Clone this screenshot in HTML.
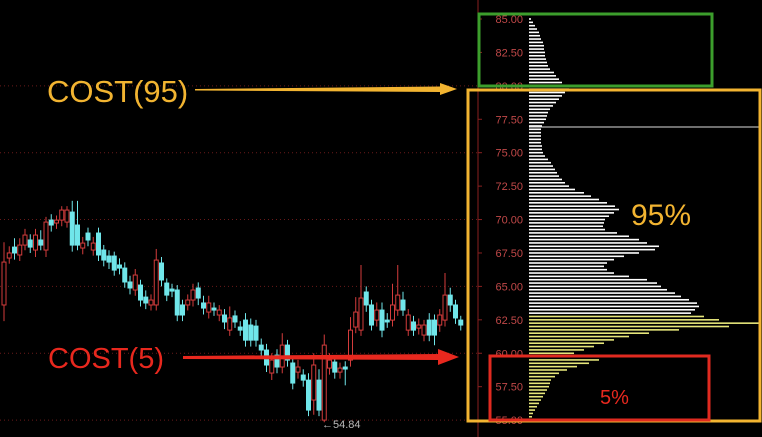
<!DOCTYPE html>
<html><head><meta charset="utf-8"><style>
html,body{margin:0;padding:0;background:#000;}
svg{display:block;}
</style></head><body>
<svg id="chart" width="762" height="437" viewBox="0 0 762 437" xmlns="http://www.w3.org/2000/svg" font-family="Liberation Sans, sans-serif">
<rect width="762" height="437" fill="#000"/>
<g id="grid"></g>
<g id="candles"></g>
<line x1="478" y1="0" x2="478" y2="437" stroke="#8a2020" stroke-width="1"/>
<g id="yaxis"></g>
<g id="profile"></g>
<line x1="529" y1="127" x2="760" y2="127" stroke="#ddd" stroke-width="1"/>
<text x="322" y="428" fill="#bbb" font-size="11">←54.84</text>
<rect x="479" y="14" width="233" height="72" fill="none" stroke="#3c9e2c" stroke-width="3"/>
<rect x="468" y="90" width="292" height="331" fill="none" stroke="#f2b431" stroke-width="3"/>
<rect x="490" y="356" width="219" height="64" fill="none" stroke="#e02a20" stroke-width="3"/>
<text x="47" y="102" fill="#f2b431" font-size="31">COST(95)</text>
<polygon points="195,89 440,86.5 440,83 457,89 440,95 440,92 195,90.5" fill="#f2b431"/>
<text x="48" y="368" fill="#e8281e" font-size="29">COST(5)</text>
<polygon points="183,356 438,354 438,349 459,357 438,365 438,360 183,359" fill="#e8281e"/>
<text x="631" y="225" fill="#f2b431" font-size="30">95%</text>
<text x="600" y="404" fill="#e8281e" font-size="20">5%</text>
</svg>
<script>
const O=[63.61,67.12,67.94,67.35,68.09,68.47,67.72,68.47,67.72,69.96,69.74,69.96,69.81,70.56,69.59,67.87,68.99,67.72,68.99,67.72,67.27,67.27,66.60,66.37,65.33,64.73,65.10,64.20,63.61,63.61,66.75,65.25,64.80,64.73,63.61,63.61,63.98,64.88,63.76,63.08,63.38,62.86,62.86,61.73,62.79,61.96,62.48,62.11,62.03,60.61,60.24,58.52,59.86,58.97,60.61,59.27,58.59,58.37,57.99,56.50,57.99,55.00,58.89,59.34,58.59,58.97,59.49,61.96,61.73,64.58,63.61,62.48,63.23,62.48,62.48,63.23,63.98,61.73,62.34,61.88,61.36,62.48,62.48,62.11,62.48,64.35,63.61,62.48];
const C=[66.82,67.50,67.50,68.09,68.84,67.94,68.84,68.09,69.81,69.59,69.96,70.71,70.71,68.09,68.09,68.24,68.47,68.24,67.35,66.97,66.82,66.22,66.37,65.33,64.88,65.85,63.98,63.76,63.98,66.97,65.48,64.35,64.65,62.86,62.86,63.98,64.73,64.13,63.38,63.76,63.23,63.23,62.34,62.64,62.34,61.73,60.98,60.98,60.98,60.24,59.12,59.49,58.97,60.61,59.49,57.77,58.97,57.99,55.75,59.12,55.75,60.61,59.49,58.59,58.89,58.82,61.73,63.08,64.13,63.61,62.11,63.23,61.73,62.34,63.61,64.35,63.23,62.86,61.73,62.11,62.11,61.36,61.36,62.86,64.35,63.61,62.64,62.11];
const H=[68.3,68.0,68.6,68.6,69.3,68.9,69.3,69.2,70.2,70.4,70.3,71.0,71.0,71.4,71.4,68.7,69.4,68.7,69.4,68.1,67.7,67.6,67.1,66.8,65.8,66.3,65.5,64.7,64.4,67.8,67.2,65.6,65.2,65.1,64.0,64.4,65.2,65.3,64.3,64.3,63.8,63.6,63.3,63.5,63.2,62.4,63.0,62.6,62.5,61.1,60.7,60.0,60.3,61.5,61.0,59.8,59.5,58.8,58.5,60.0,58.8,61.4,60.0,59.8,59.3,59.4,62.7,64.2,66.6,65.0,64.0,63.8,63.8,63.0,65.2,66.6,64.6,63.3,62.8,62.6,62.5,63.0,62.9,63.3,66.0,64.9,64.0,62.8];
const L=[62.4,66.7,67.0,66.9,67.7,67.5,67.2,67.7,67.2,69.1,69.3,69.5,69.4,67.6,67.7,67.4,68.0,67.3,66.9,66.5,66.3,65.8,65.9,64.9,64.4,64.3,63.5,63.3,63.2,63.2,65.0,63.9,64.2,62.4,62.4,63.2,63.5,63.6,62.9,62.6,62.8,62.4,61.8,61.3,61.9,61.3,60.5,60.5,60.5,59.8,58.6,58.0,58.5,58.5,59.0,57.3,58.1,57.5,55.3,55.4,55.3,54.84,58.4,58.1,58.1,57.6,59.0,61.5,61.3,63.1,61.7,62.0,61.2,61.9,62.0,62.8,62.8,61.3,61.3,61.4,60.9,60.9,60.6,61.6,62.0,63.1,62.2,61.7];
const ticks=["85.00","82.50","80.00","77.50","75.00","72.50","70.00","67.50","65.00","62.50","60.00","57.50","55.00"];
const tickVals=[85,82.5,80,77.5,75,72.5,70,67.5,65,62.5,60,57.5,55];
// chip distribution widths, from 85.00 down to 55.00 in 0.25 steps
const chipW=[2,4,6,8,10,11,12,14,15,15,
16,16,17,18,19,21,25,27,30,33,
38,40,36,33,30,27,24,21,19,18,
17,15,13,12,12,12,12,12,13,13,
14,16,19,22,24,26,28,30,33,36,
40,46,55,62,70,78,86,90,85,80,
76,75,74,76,88,100,110,118,130,126,
110,95,85,78,75,78,85,100,118,128,
132,138,146,152,160,168,170,166,162,175,
190,230,200,150,120,100,85,75,65,55,
45,55,70,60,48,38,30,26,22,21,
20,18,16,14,12,10,8,6,4,3,
2];
const PX=13.37;
function y(p){return 19+(85-p)*PX;}
function x(i){return 4+i*5.25;}
const NS="http://www.w3.org/2000/svg";
function mk(tag,attrs,parent){const e=document.createElementNS(NS,tag);for(const k in attrs)e.setAttribute(k,attrs[k]);parent.appendChild(e);return e;}
const grid=document.getElementById('grid');
[80,75,70,65,60,55].forEach(v=>{
  const g=mk('line',{x1:0,x2:478,y1:y(v),y2:y(v),stroke:'#6a1a1a','stroke-width':1,'stroke-dasharray':'1,3'},grid);
  
  
});
const ya=document.getElementById('yaxis');
ticks.forEach((t,i)=>{
  const tx=mk('text',{x:523,y:y(tickVals[i])+4,fill:'#c04848','font-size':11,'text-anchor':'end'},ya);
  tx.textContent=t;
  
  
  const tk=mk('line',{x1:478,x2:482,y1:y(tickVals[i]),y2:y(tickVals[i]),stroke:'#8a2020'},ya);
  
  
});
const cg=document.getElementById('candles');
for(let i=0;i<O.length;i++){
  const up=C[i]>=O[i];
  const col=up?'#d43c3c':'#70e6ea';
  const cx=x(i);
  const w=mk('line',{x1:cx,x2:cx,y1:y(H[i]),y2:y(L[i]),stroke:col,'stroke-width':1},cg);
  
  
  const top=y(Math.max(O[i],C[i])),bot=y(Math.min(O[i],C[i]));
  const b=mk('rect',{x:cx-2,y:top,width:4,height:Math.max(1,bot-top),fill:up?'#000':col,stroke:col,'stroke-width':1},cg);
  
  
}
const pg=document.getElementById('profile');
for(let i=0;i<chipW.length;i++){
  const p=85-i*0.25;
  const yy=y(p);
  const col=p<=62.75?'#e6e67a':'#ffffff';
  const r=mk('rect',{x:529,y:yy-0.8,width:chipW[i],height:1.6,fill:col},pg);
  
  
}
</script>
</body></html>
